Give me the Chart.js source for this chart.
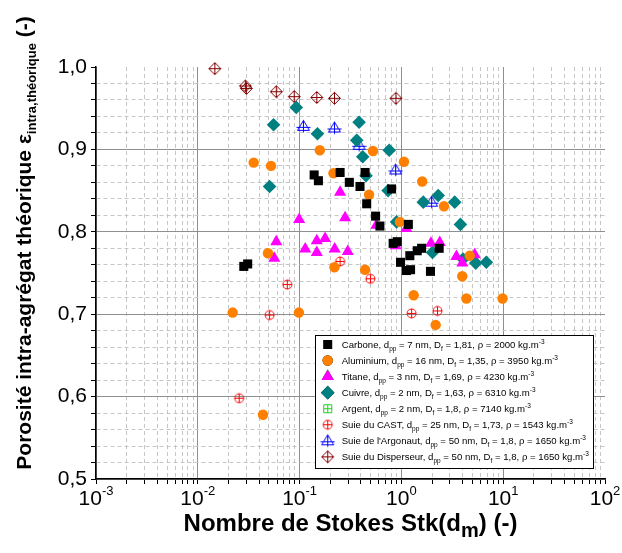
<!DOCTYPE html>
<html>
<head>
<meta charset="utf-8">
<script src="https://cdn.jsdelivr.net/npm/chart.js@4.4.1/dist/chart.umd.min.js"></script>
<style>
  html, body { margin: 0; padding: 0; background: #fff; }
</style>
</head>
<body>
<canvas id="chart" width="622" height="553"></canvas>
<script>
// Porosite intra-agregat vs nombre de Stokes
const FONT = "'Liberation Sans', Arial, sans-serif";

// --- Data ---
const carboneX = [0.0283, 0.0309, 0.139, 0.153, 0.25, 0.308, 0.392, 0.44, 0.456, 0.558, 0.615, 0.80, 1.17, 0.83, 0.91, 0.98, 1.12, 1.23, 1.21, 1.43, 1.58, 1.93, 2.35];
const carboneY = [0.758, 0.761, 0.869, 0.862, 0.872, 0.860, 0.855, 0.872, 0.834, 0.819, 0.807, 0.852, 0.809, 0.786, 0.788, 0.763, 0.753, 0.754, 0.771, 0.777, 0.780, 0.752, 0.780];

const aluX = [0.022, 0.0354, 0.0437, 0.0489, 0.0524, 0.0984, 0.158, 0.215, 0.22, 0.44, 0.481, 0.526, 0.966, 1.06, 1.32, 1.60, 2.17, 2.62, 3.96, 4.35, 4.69, 9.86];
const aluY = [0.702, 0.884, 0.578, 0.774, 0.880, 0.702, 0.899, 0.871, 0.757, 0.754, 0.845, 0.898, 0.812, 0.885, 0.723, 0.861, 0.687, 0.831, 0.746, 0.719, 0.771, 0.719];

const titaneX = [0.0564, 0.059, 0.099, 0.1135, 0.1475, 0.1475, 0.178, 0.221, 0.25, 0.28, 0.297, 0.568, 0.88, 1.12, 1.95, 2.38, 3.47, 3.97, 5.25];
const titaneY = [0.768, 0.788, 0.815, 0.779, 0.789, 0.775, 0.792, 0.779, 0.848, 0.817, 0.776, 0.808, 0.783, 0.804, 0.786, 0.787, 0.770, 0.762, 0.772];

const cuivreX = [0.0507, 0.0555, 0.0927, 0.1497, 0.364, 0.384, 0.417, 0.449, 0.741, 0.759, 0.897, 1.64, 2.02, 2.30, 3.34, 3.80, 4.03, 5.37, 6.83];
const cuivreY = [0.855, 0.930, 0.951, 0.919, 0.911, 0.933, 0.891, 0.868, 0.850, 0.899, 0.812, 0.836, 0.775, 0.844, 0.836, 0.809, 0.767, 0.762, 0.763];

const argentX = [];
const argentY = [];

const castX = [0.0255, 0.0507, 0.0757, 0.25, 0.496, 1.26, 2.26];
const castY = [0.598, 0.699, 0.736, 0.764, 0.743, 0.701, 0.704];

const argonautX = [0.109, 0.22, 0.384, 0.877, 1.98];
const argonautY = [0.928, 0.926, 0.905, 0.875, 0.836];

const dispX = [0.0147, 0.0293, 0.0300, 0.059, 0.0885, 0.1475, 0.22, 0.883];
const dispY = [0.998, 0.977, 0.974, 0.970, 0.964, 0.963, 0.962, 0.962];

// legende
const seriesNames = ['Carbone', 'Aluminium', 'Titane', 'Cuivre', 'Argent', 'Suie du CAST', "Suie de l'Argonaut", 'Suie du Disperseur'];
const dppValues = ['7', '16', '3', '2', '2', '25', '50', '50'];
const dfValues = ['1,81', '1,35', '1,69', '1,63', '1,8', '1,73', '1,8', '1,8'];
const rhoValues = ['2000', '3950', '4230', '6310', '7140', '1543', '1650', '1650'];

// axes
const yTickValues = [0.5, 0.6, 0.7, 0.8, 0.9, 1.0];
const yTickLabels = ['0,5', '0,6', '0,7', '0,8', '0,9', '1,0'];
const xDecades = [1e-3, 1e-2, 1e-1, 1, 10, 100];
const xExponents = ['-3', '-2', '-1', '0', '1', '2'];

function pts(xs, ys) { return xs.map((x, i) => ({ x, y: ys[i] })); }

// --- Marqueurs ouverts avec croix ---
function openMarker(kind, color) {
  const s = 15, m = 7.5;
  const c = document.createElement('canvas');
  c.width = s; c.height = s;
  const g = c.getContext('2d');
  g.strokeStyle = color; g.lineWidth = 1;
  g.beginPath();
  if (kind === 'circle') {
    g.arc(m, m, 4.5, 0, Math.PI * 2);
    g.moveTo(m, m - 4.5); g.lineTo(m, m + 4.5);
    g.moveTo(m - 4.5, m); g.lineTo(m + 4.5, m);
  } else if (kind === 'square') {
    g.rect(m - 4, m - 4, 8, 8);
    g.moveTo(m, m - 4); g.lineTo(m, m + 4);
    g.moveTo(m - 4, m); g.lineTo(m + 4, m);
  } else if (kind === 'triangle') {
    g.moveTo(m, m - 6); g.lineTo(m + 6, m + 4); g.lineTo(m - 6, m + 4); g.closePath();
    g.moveTo(m, m - 6); g.lineTo(m, m + 6);
    g.moveTo(m - 7, m + 1); g.lineTo(m + 7, m + 1);
  } else if (kind === 'diamond') {
    g.moveTo(m, m - 6); g.lineTo(m + 6, m); g.lineTo(m, m + 6); g.lineTo(m - 6, m); g.closePath();
    g.moveTo(m, m - 6); g.lineTo(m, m + 6);
    g.moveTo(m - 6, m); g.lineTo(m + 6, m);
  }
  g.stroke();
  return c;
}

const styles = [
  { pointStyle: 'rect', radius: 6.4, color: '#000000' },
  { pointStyle: 'circle', radius: 5.2, color: '#ff8000' },
  { pointStyle: 'triangle', radius: 7, color: '#ff00ff' },
  { pointStyle: 'rectRot', radius: 6.8, color: '#008080' },
  { pointStyle: openMarker('square', '#22cc22'), radius: 5, color: '#22cc22' },
  { pointStyle: openMarker('circle', '#ff0000'), radius: 5, color: '#ff0000' },
  { pointStyle: openMarker('triangle', '#0000ff'), radius: 5, color: '#0000ff' },
  { pointStyle: openMarker('diamond', '#800000'), radius: 5, color: '#800000' },
];

const seriesData = [
  pts(carboneX, carboneY), pts(aluX, aluY), pts(titaneX, titaneY), pts(cuivreX, cuivreY),
  pts(argentX, argentY), pts(castX, castY), pts(argonautX, argonautY), pts(dispX, dispY),
];

const datasets = seriesData.map((data, i) => ({
  label: seriesNames[i],
  data,
  pointStyle: styles[i].pointStyle,
  pointRadius: styles[i].radius,
  backgroundColor: styles[i].color,
  borderColor: styles[i].color,
  borderWidth: 0,
  clip: false,
}));

// --- helpers texte riche ---
function richWidth(ctx, parts) {
  let w = 0;
  parts.forEach(p => { ctx.font = p.font; w += ctx.measureText(p.t).width; });
  return w;
}
function drawRich(ctx, parts, x, y) {
  parts.forEach(p => {
    ctx.font = p.font;
    ctx.fillText(p.t, x, y + (p.dy || 0));
    x += ctx.measureText(p.t).width;
  });
}

const isMajorY = v => Math.abs(v * 10 - Math.round(v * 10)) < 1e-6;
const isMajorX = v => Math.abs(Math.log10(v) - Math.round(Math.log10(v))) < 1e-6;

const decorPlugin = {
  id: 'decor',
  afterDraw(chart) {
    const ctx = chart.ctx;
    const xs = chart.scales.x;
    ctx.save();
    ctx.fillStyle = '#000';
    ctx.textBaseline = 'alphabetic';

    // labels axe x : 10^n
    xDecades.forEach((v, i) => {
      const parts = [
        { t: '10', font: `21px ${FONT}` },
        { t: xExponents[i], font: `13px ${FONT}`, dy: -10 },
      ];
      const w = richWidth(ctx, parts);
      drawRich(ctx, parts, xs.getPixelForValue(v) - w / 2, 505);
    });

    // titre axe x
    const xt = [
      { t: 'Nombre de Stokes Stk(d', font: `bold 24px ${FONT}` },
      { t: 'm', font: `bold 20px ${FONT}`, dy: 6 },
      { t: ') (-)', font: `bold 24px ${FONT}` },
    ];
    const xc = (chart.chartArea.left + chart.chartArea.right) / 2;
    drawRich(ctx, xt, xc - richWidth(ctx, xt) / 2, 531);

    // titre axe y
    const yt = [
      { t: 'Porosité intra-agrégat théorique ε', font: `bold 21px ${FONT}` },
      { t: 'intra,théorique', font: `bold 13px ${FONT}`, dy: 5 },
      { t: ' (-)', font: `bold 21px ${FONT}` },
    ];
    ctx.save();
    ctx.translate(31, 243);
    ctx.rotate(-Math.PI / 2);
    drawRich(ctx, yt, -richWidth(ctx, yt) / 2, 0);
    ctx.restore();

    // legende
    const bx = 315.5, by = 335.5, bw = 278, bh = 133;
    ctx.fillStyle = '#fff';
    ctx.fillRect(bx, by, bw, bh);
    ctx.strokeStyle = '#000';
    ctx.lineWidth = 1;
    ctx.strokeRect(bx, by, bw, bh);
    seriesNames.forEach((name, i) => {
      const cy = 344.5 + i * 16.05;
      const st = styles[i];
      if (typeof st.pointStyle === 'string') {
        Chart.helpers.drawPoint(ctx, { pointStyle: st.pointStyle, radius: st.radius, borderWidth: 0, rotation: 0 }, 327.7, cy);
        ctx.fillStyle = st.color;
        ctx.fill();
      } else {
        ctx.drawImage(st.pointStyle, 327.7 - 7.5, cy - 7.5);
      }
      ctx.fillStyle = '#000';
      const parts = [
        { t: name + ', d', font: `9.6px ${FONT}` },
        { t: 'pp', font: `6.5px ${FONT}`, dy: 3 },
        { t: ' = ' + dppValues[i] + ' nm, D', font: `9.6px ${FONT}` },
        { t: 'f', font: `6.5px ${FONT}`, dy: 3 },
        { t: ' = ' + dfValues[i] + ', ρ = ' + rhoValues[i] + ' kg.m', font: `9.6px ${FONT}` },
        { t: '-3', font: `6.5px ${FONT}`, dy: -4 },
      ];
      drawRich(ctx, parts, 341.7, cy + 3.5);
    });
    ctx.restore();
  },
};

new Chart(document.getElementById('chart'), {
  type: 'scatter',
  data: { datasets },
  plugins: [decorPlugin],
  options: {
    responsive: false,
    animation: false,
    devicePixelRatio: 1,
    events: [],
    layout: { padding: { left: 0, right: 17, top: 67, bottom: 0 } },
    plugins: { legend: { display: false }, tooltip: { enabled: false } },
    scales: {
      x: {
        type: 'logarithmic',
        min: 1e-3, max: 100,
        afterFit: s => { s.height = 74; },
        afterBuildTicks: s => {
          const ticks = [];
          xDecades.slice(0, -1).forEach(d => {
            for (let m = 1; m <= 9; m++) ticks.push({ value: m * d });
          });
          ticks.push({ value: 100 });
          s.ticks = ticks;
        },
        ticks: { display: false, autoSkip: false },
        grid: {
          color: c => {
            if (!c.tick) return '#8f8f8f';
            if (c.tick.value >= 99) return 'rgba(0,0,0,0)';
            return isMajorX(c.tick.value) ? '#8f8f8f' : '#c6c6c6';
          },
          lineWidth: 1,
          tickColor: '#000',
          tickLength: 5,
          tickWidth: 1,
        },
        border: {
          color: '#000', width: 1.5,
          dash: c => (c.tick && !isMajorX(c.tick.value)) ? [4, 3] : [],
        },
      },
      y: {
        type: 'linear',
        min: 0.5, max: 1.0,
        afterFit: s => { s.width = 96; },
        afterBuildTicks: s => {
          const ticks = [];
          for (let i = 0; i <= 25; i++) ticks.push({ value: +(0.5 + i * 0.02).toFixed(2) });
          s.ticks = ticks;
        },
        ticks: {
          autoSkip: false,
          color: '#000',
          padding: 4,
          font: { family: FONT, size: 21 },
          callback: v => {
            const k = yTickValues.findIndex(t => Math.abs(t - v) < 1e-6);
            return k >= 0 ? yTickLabels[k] : '';
          },
        },
        grid: {
          color: c => {
            if (!c.tick) return '#8f8f8f';
            if (c.tick.value > 0.999) return 'rgba(0,0,0,0)';
            return isMajorY(c.tick.value) ? '#8f8f8f' : '#c6c6c6';
          },
          lineWidth: 1,
          tickColor: '#000',
          tickLength: 5,
          tickWidth: 1,
        },
        border: {
          color: '#000', width: 1.5,
          dash: c => (c.tick && !isMajorY(c.tick.value)) ? [4, 3] : [],
        },
      },
    },
  },
});
</script>
</body>
</html>
